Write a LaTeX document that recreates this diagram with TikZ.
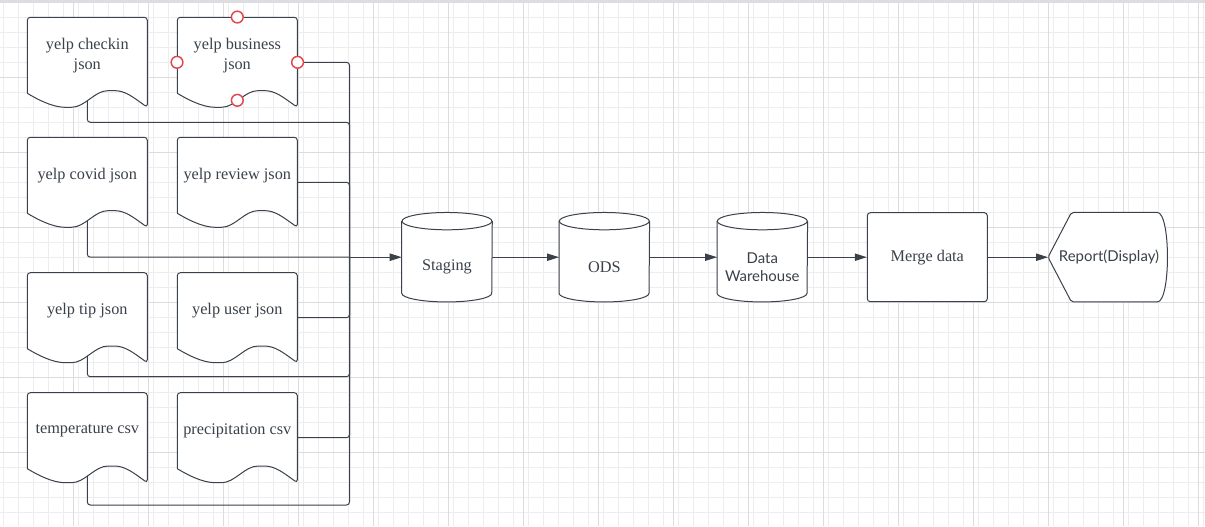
\documentclass[tikz,border=0pt]{standalone}
\usepackage{fontspec}
\setmainfont{Liberation Serif}
\newfontfamily\latofont{Lato}
\usepackage{tikz}
\usepackage{xcolor}
\usetikzlibrary{
    calc,
    arrows.meta,
    positioning
}
\definecolor{ink}{HTML}{3A414A}
\definecolor{gridminor}{HTML}{EDEDED}
\definecolor{gridmajor}{HTML}{DCDCDC}
\definecolor{topbar}{HTML}{DCDDE0}
\definecolor{handlered}{HTML}{E0474F}
\tikzset{
    shapeline/.style={draw=ink, line width=0.75pt, fill=white},
    flow/.style={draw=ink, line width=0.75pt, rounded corners=2.25pt},
    arrowflow/.style={flow, -{Triangle[length=9pt, width=5.5pt]}},
    seriftext/.style={text=ink, font=\fontsize{12.2}{15}\selectfont, align=center, inner sep=0pt},
    sanstext/.style={text=ink, font=\latofont\fontsize{11.2}{14.2}\selectfont, align=center, inner sep=0pt},
    docbox/.style={inner sep=0pt, minimum width=90pt, minimum height=67.5pt},
    cylbox/.style={inner sep=0pt, minimum width=67.5pt, minimum height=66.75pt},
    handle/.style={draw=handlered, line width=1.1pt, fill=white}
}
\newcommand{\docshape}[3]{
    \coordinate (#1-nw) at (#2);
    \node[docbox] (#1) at ($(#1-nw) + (60, 45)$) {};
    \coordinate (#1-wave) at ($(#1-nw) + (60, 83)$);
    \draw[shapeline, rounded corners=2.25pt]
    ($(#1-nw) + (0, 76)$) -- (#1-nw) -- ($(#1-nw) + (120, 0)$) -- ($(#1-nw) + (120, 90)$)
    .. controls ($(#1-nw) + (106, 80)$) and ($(#1-nw) + (98, 73.3)$) .. ($(#1-nw) + (84, 73.3)$)
    .. controls ($(#1-nw) + (67, 73.3)$) and ($(#1-nw) + (58, 90)$) .. ($(#1-nw) + (41, 90)$)
    .. controls ($(#1-nw) + (25, 90)$) and ($(#1-nw) + (10, 82)$) .. ($(#1-nw) + (0, 76)$);
    \node[seriftext] (#1-text) at ($(#1-nw) + (60, 38)$) {#3};
}
\newcommand{\dbcyl}[4]{
    \node[cylbox] (#1) at (#2) {};
    \draw[shapeline]
    ($(#1.north west) + (0, 8.7)$) -- ($(#1.south west) + (0, -8.7)$)
    arc[start angle=180, end angle=360, x radius=33.75pt, y radius=6.5pt]
    -- ($(#1.north east) + (0, 8.7)$);
    \draw[shapeline] ($(#1.north) + (0, 8.7)$) ellipse[x radius=33.75pt, y radius=6.5pt];
    \node[#4] (#1-text) at ($(#1.center) + (0, 10)$) {#3};
}

\begin{document}
\begin{tikzpicture}[x=0.75pt, y=-0.75pt]
    \useasboundingbox (0, 0) rectangle (1205, 526);
    \fill[white] (0, 0) rectangle (1205, 526);
    \foreach \gx in {3.3, 18.3, ..., 1203.3}
        \draw[gridminor, line width=0.75pt] (\gx, 0) -- (\gx, 526);
    \foreach \gy in {2.3, 17.3, ..., 517.3}
        \draw[gridminor, line width=0.75pt] (0, \gy) -- (1205, \gy);
    \foreach \gx in {73.3, 148.3, ..., 1198.3}
        \draw[gridmajor, line width=0.75pt] (\gx, 0) -- (\gx, 526);
    \foreach \gy in {2.3, 77.3, ..., 452.3}
        \draw[gridmajor, line width=0.75pt] (0, \gy) -- (1205, \gy);
    \fill[topbar] (0, 0) rectangle (1205, 2.7);

    \coordinate (join) at (349.5, 257.2);
    \node[cylbox] (stg) at (447, 257.2) {};

    % sources
    \docshape{checkin}{27.3, 17.3}{yelp checkin\\json}
    \docshape{business}{177.3, 17.3}{yelp business\\json}
    \docshape{covid}{27.3, 137.3}{yelp covid json}
    \docshape{review}{177.3, 137.3}{yelp review json}
    \docshape{tip}{27.3, 272.7}{yelp tip json}
    \docshape{user}{177.3, 272.7}{yelp user json}
    \docshape{temp}{27.3, 392.7}{temperature csv}
    \docshape{precip}{177.3, 392.7}{precipitation csv}

    \draw[flow] (checkin-wave) |- ($(join) + (0, -134.9)$) -- (join);
    \draw[flow] (business.east) -| (join);
    \draw[flow] (review.east) -| (join);
    \draw[flow] (covid-wave) |- (join);
    \draw[flow] (user.east) -| (join);
    \draw[flow] (tip-wave) |- ($(join) + (0, 119.5)$) -- (join);
    \draw[flow] (precip.east) -| (join);
    \draw[flow] (temp-wave) |- ($(join) + (0, 247.8)$) -- (join);
    \draw[arrowflow] (join) -- (stg.west);

    % pipeline
    \dbcyl{stg}{447, 257.2}{Staging}{seriftext}
    \dbcyl{ods}{604.3, 257.2}{ODS}{seriftext}
    \dbcyl{dw}{762.3, 257.2}{Data\\Warehouse}{sanstext}
    \node[shapeline, rounded corners=2.25pt, minimum width=90pt, minimum height=66.75pt, seriftext] (merge) at (927.3, 257.2) {Merge data};
    \node[minimum width=88.8pt, minimum height=66.75pt, inner sep=0pt] (report) at (1107.5, 257.2) {};
    \draw[shapeline, rounded corners=1.5pt]
    (report.west) -- ($(report.north west) + (23.4, 0)$) -- ($(report.north east) + (-11.7, 0)$)
    .. controls ($(report.north east) + (3.9, 0)$) and ($(report.south east) + (3.9, 0)$) .. ($(report.south east) + (-11.7, 0)$)
    -- ($(report.south west) + (23.4, 0)$) -- cycle;
    \node[sanstext] (report-text) at ($(report.center) + (1.5, 0)$) {Report(Display)};
    \draw[arrowflow] (stg.east) -- (ods.west);
    \draw[arrowflow] (ods.east) -- (dw.west);
    \draw[arrowflow] (dw.east) -- (merge.west);
    \draw[arrowflow] (merge.east) -- (report.west);

    \foreach \h in {business.north, business.west, business.east, business-wave}
        \draw[handle] (\h) circle[radius=4.4pt];
\end{tikzpicture}
\end{document}
